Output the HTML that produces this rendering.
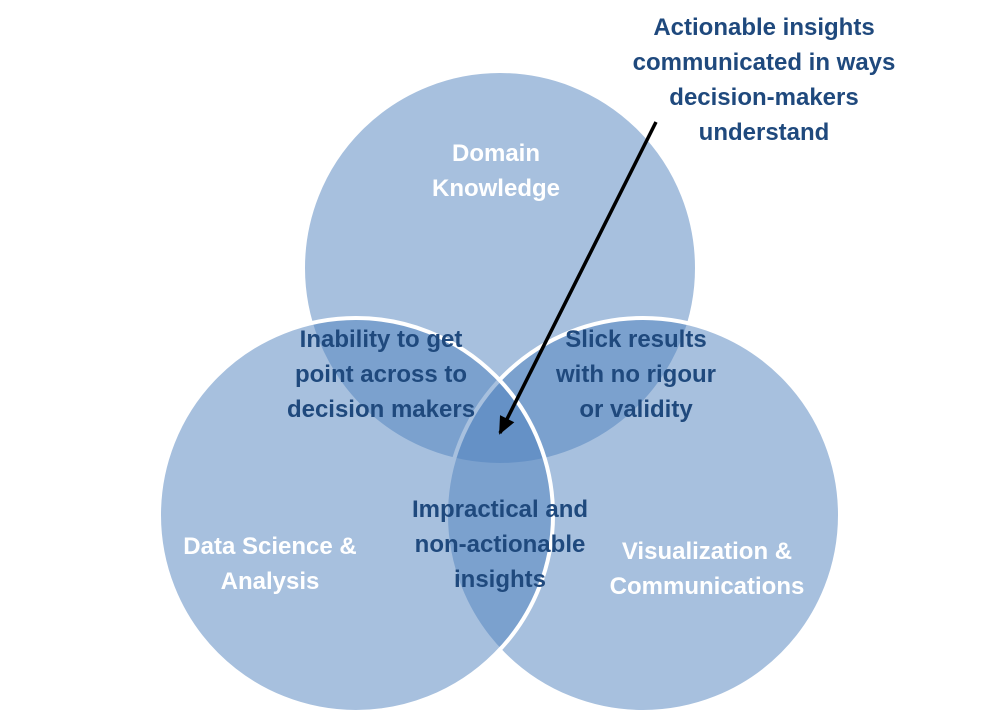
<!DOCTYPE html>
<html><head><meta charset="utf-8"><style>
body{margin:0;background:#fff;}
svg{display:block}
text{font-family:"Liberation Sans",sans-serif;font-weight:bold;font-size:24px;text-anchor:middle}
.w{fill:#fff}.d{fill:#1f497d}
</style></head><body>
<svg width="1000" height="726" viewBox="0 0 1000 726">
<defs><marker id="ah" markerWidth="18" markerHeight="16" refX="16" refY="8" orient="auto" markerUnits="userSpaceOnUse"><path d="M0,0 L18,8 L0,16 z" fill="#000"/></marker></defs>
<g fill="#4f81bd" fill-opacity="0.5" stroke="#fff" stroke-width="4">
<circle cx="500" cy="268" r="197"/>
<circle cx="643" cy="515" r="197"/>
<circle cx="356" cy="515" r="197"/>
</g>
<text class="w" x="496" y="161">Domain</text>
<text class="w" x="496" y="196">Knowledge</text>
<text class="w" x="270" y="554">Data Science &amp;</text>
<text class="w" x="270" y="589">Analysis</text>
<text class="w" x="707" y="559">Visualization &amp;</text>
<text class="w" x="707" y="594">Communications</text>
<text class="d" x="381" y="347">Inability to get</text>
<text class="d" x="381" y="382">point across to</text>
<text class="d" x="381" y="417">decision makers</text>
<text class="d" x="636" y="347">Slick results</text>
<text class="d" x="636" y="382">with no rigour</text>
<text class="d" x="636" y="417">or validity</text>
<text class="d" x="500" y="517">Impractical and</text>
<text class="d" x="500" y="552">non-actionable</text>
<text class="d" x="500" y="587">insights</text>
<text class="d" x="764" y="35">Actionable insights</text>
<text class="d" x="764" y="70">communicated in ways</text>
<text class="d" x="764" y="105">decision-makers</text>
<text class="d" x="764" y="140">understand</text>
<line x1="656" y1="122" x2="500" y2="433" stroke="#000" stroke-width="3.5" marker-end="url(#ah)"/>
</svg>
</body></html>
